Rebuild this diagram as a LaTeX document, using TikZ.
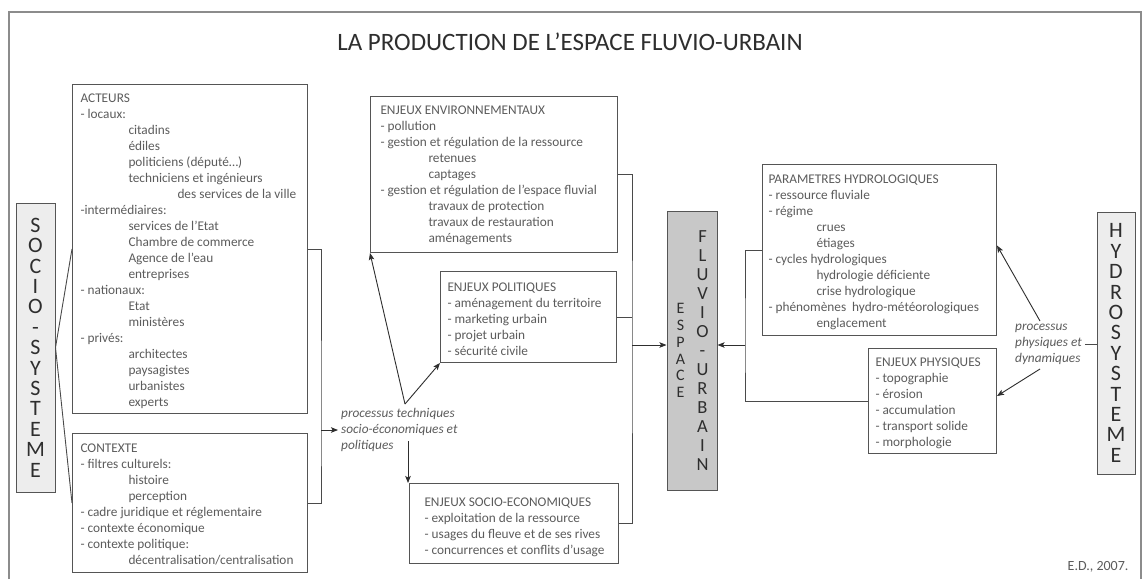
\documentclass[tikz,border=0pt]{standalone}
\usepackage{fontspec}
\setmainfont{Carlito}
\usetikzlibrary{arrows.meta}
\definecolor{txt}{HTML}{5C5C5C}
\definecolor{bord}{HTML}{555555}
\definecolor{dark}{HTML}{2E2E2E}
\definecolor{sysfill}{HTML}{EDEDED}
\definecolor{espfill}{HTML}{C8C8C8}
\definecolor{framec}{HTML}{8C8C8C}
\definecolor{connc}{HTML}{4A4A4A}
\newcommand\ia{\hspace*{48pt}}
\newcommand\ib{\hspace*{97pt}}
\newcommand\bxt[5]{\parbox[t][#2pt][t]{#1pt}{\fontsize{13.3}{16}\selectfont\hspace*{#3pt}\rule{0pt}{#4pt}\begin{tabular}[t]{@{}l@{}}#5\end{tabular}}}
\tikzset{
  box/.style={draw=bord, line width=1pt, inner sep=0pt, anchor=north west, text=txt},
  sys/.style={draw=bord, fill=sysfill, line width=1pt, minimum width=39pt, inner sep=0pt, align=center, text=dark, font=\fontsize{22}{20.4}\selectfont},
  conn/.style={draw=connc, line width=0.9pt},
  arr/.style={draw=dark, line width=0.9pt, -{Stealth[length=7pt,width=5.5pt,inset=1.5pt]}},
  proc/.style={text=txt, inner sep=3pt, align=left, font=\fontsize{13.3}{15.7}\selectfont\itshape}
}
\begin{document}
\begin{tikzpicture}[x=1pt,y=-1pt]
\useasboundingbox (0,0) rectangle (1143,579);
\fill[white] (0,0) rectangle (1143,579);
\draw[draw=framec, line width=1.6pt] (9,579) -- (9,12) -- (1141,12) -- (1141,579);

\node[text=dark, font=\fontsize{25}{28}\selectfont] (title) at (570,42) {LA PRODUCTION DE L'ESPACE FLUVIO-URBAIN};

\node[sys, minimum height=289pt] (socio) at (35.5,347.5) {S\\O\\C\\I\\O\\-\\S\\Y\\S\\T\\E\\M\\E};
\node[sys, minimum width=38pt, minimum height=262pt] (hydro) at (1116,343) {H\\Y\\D\\R\\O\\S\\Y\\S\\T\\E\\M\\E};

\node[box] (acteurs) at (72,84) {\bxt{235}{329}{8}{18}{%
ACTEURS\\
- locaux:\\
\ia citadins\\
\ia édiles\\
\ia politiciens (député…)\\
\ia techniciens et ingénieurs\\
\ib des services de la ville\\
-intermédiaires:\\
\ia services de l'Etat\\
\ia Chambre de commerce\\
\ia Agence de l'eau\\
\ia entreprises\\
- nationaux:\\
\ia Etat\\
\ia ministères\\
- privés:\\
\ia architectes\\
\ia paysagistes\\
\ia urbanistes\\
\ia experts}};

\node[box] (contexte) at (72,433) {\bxt{235}{139}{8}{19}{%
CONTEXTE\\
- filtres culturels:\\
\ia histoire\\
\ia perception\\
- cadre juridique et réglementaire\\
- contexte économique\\
- contexte politique:\\
\ia décentralisation/centralisation}};

\node[box] (env) at (370,96) {\bxt{247}{156}{10}{18}{%
ENJEUX ENVIRONNEMENTAUX\\
- pollution\\
- gestion et régulation de la ressource\\
\ia retenues\\
\ia captages\\
- gestion et régulation de l'espace fluvial\\
\ia travaux de protection\\
\ia travaux de restauration\\
\ia aménagements}};

\node[box] (pol) at (440,271) {\bxt{176}{91}{7}{20}{%
ENJEUX POLITIQUES\\
- aménagement du territoire\\
- marketing urbain\\
- projet urbain\\
- sécurité civile}};

\node[box] (se) at (409,483) {\bxt{209}{80}{15}{23}{%
ENJEUX SOCIO-ECONOMIQUES\\
- exploitation de la ressource\\
- usages du fleuve et de ses rives\\
- concurrences et conflits d'usage}};

\node[box] (param) at (762,164) {\bxt{234}{171}{6}{19}{%
PARAMETRES HYDROLOGIQUES\\
- ressource fluviale\\
- régime\\
\ia crues\\
\ia étiages\\
- cycles hydrologiques\\
\ia hydrologie déficiente\\
\ia crise hydrologique\\
- phénomènes\ \ hydro-météorologiques\\
\ia englacement}};

\node[box] (phys) at (868,348) {\bxt{128}{105}{7}{18}{%
ENJEUX PHYSIQUES\\
- topographie\\
- érosion\\
- accumulation\\
- transport solide\\
- morphologie}};

\node[draw=bord, fill=espfill, line width=1pt, minimum width=50pt, minimum height=279pt, inner sep=0pt, text=dark] (espace) at (692,350.5)
 {\parbox[c]{12pt}{\centering\fontsize{16}{16.8}\selectfont E\\S\\P\\A\\C\\E}\hspace{9pt}\parbox[c]{14pt}{\centering\fontsize{18.5}{19}\selectfont F\\L\\U\\V\\I\\O\\-\\U\\R\\B\\A\\I\\N}};

\node[proc, anchor=west] (proc1) at (338,430) {processus techniques\\socio-économiques et\\politiques};
\node[proc, anchor=west] (proc2) at (1012,344.5) {processus\\physiques et\\dynamiques};

\node[text=txt, anchor=east, font=\fontsize{14}{16}\selectfont] (sig) at (1132,567) {E.D., 2007.};

% left bracket
\draw[conn] (acteurs.west) -- (socio.east) -- (contexte.west);
% left bus
\coordinate (bl) at (321,430);
\draw[conn] (acteurs.east) -| (bl) |- (contexte.east);
\draw[arr] (bl) -- (proc1.west);
% process arrows
\coordinate (pt1) at (405,404);
\draw[arr] (pt1) -- (env.south west);
\draw[arr] (pt1) -- (pol.south west);
\coordinate (pt2) at (408,441);
\draw[arr] (pt2) -- (pt2 |- se.north);
% middle bus
\coordinate (bm) at (632,345);
\draw[conn] (env.east) -| (bm) |- (se.east);
\draw[conn] (pol.east) -- (pol.east -| bm);
\draw[arr] (bm) -- (bm -| espace.west);
% right bus
\coordinate (br) at (745,345);
\draw[conn] (param.west) -| (br) |- (phys.west);
\draw[arr] (br) -- (br -| espace.east);
% hydro processes
\coordinate (pa) at (1040,321);
\coordinate (pb) at (1040,369);
\draw[arr] (pa) -- ([yshift=4.5pt]param.east);
\draw[arr] (pb) -- ([yshift=5pt]phys.east);
\draw[conn] (proc2.east) -- (proc2.east -| hydro.west);
\end{tikzpicture}
\end{document}
